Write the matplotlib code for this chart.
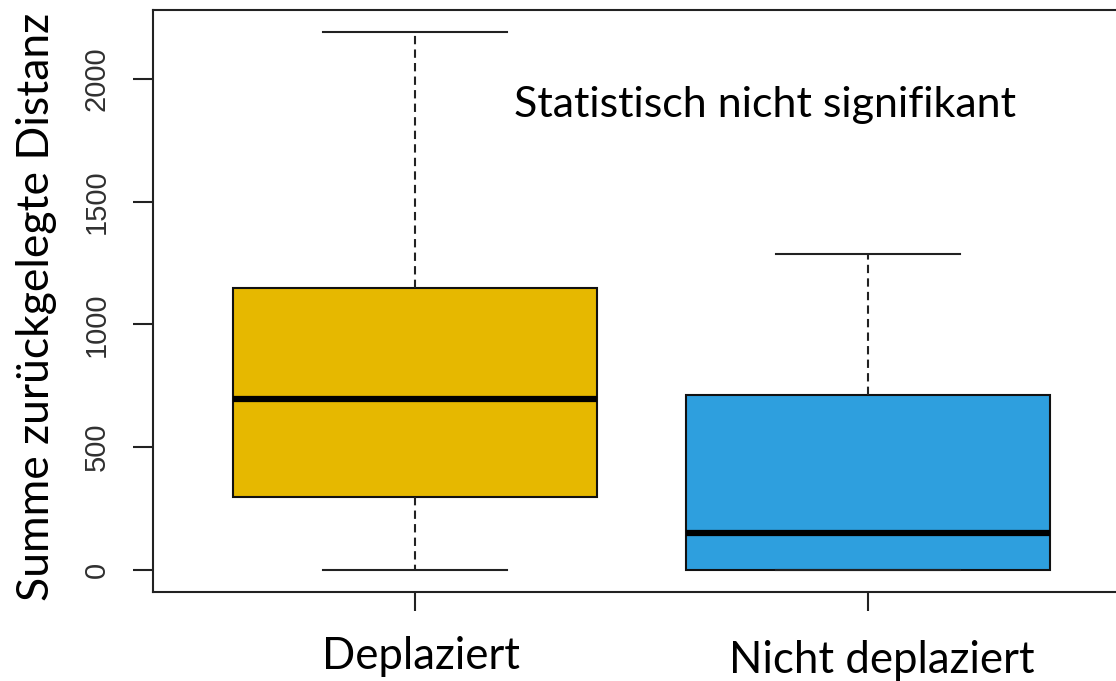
import matplotlib.pyplot as plt
import matplotlib.transforms as mtransforms
import numpy as np

groups = ['Deplaziert', 'Nicht deplaziert']
whislo = [0, 0]
q1 = [297, 0]
med = [697, 151]
q3 = [1148, 712]
whishi = [2190, 1285]
colors = ['#E6B800', '#2E9FDE']

yticks = [0, 500, 1000, 1500, 2000]

fig = plt.figure(figsize=(11.16, 6.81), dpi=100)
# axes box: left 153px, top 10px, bottom 592px, right runs off the picture
ax = fig.add_axes([153 / 1116, (681 - 592) / 681, 1.0, (592 - 10) / 681])

stats = []
for i in range(len(groups)):
    stats.append({'whislo': whislo[i], 'q1': q1[i], 'med': med[i],
                  'q3': q3[i], 'whishi': whishi[i], 'fliers': []})

lw = 1.5
bp = ax.bxp(stats, positions=[1, 2], widths=0.805, patch_artist=True,
            showfliers=False, capwidths=0.408,
            boxprops={'linewidth': lw, 'edgecolor': '#111111'},
            medianprops={'color': 'black', 'linewidth': 4.5, 'solid_capstyle': 'butt'},
            whiskerprops={'color': '#222222', 'linewidth': lw, 'linestyle': (0, (4, 2.5))},
            capprops={'color': '#222222', 'linewidth': lw})
for patch, c in zip(bp['boxes'], colors):
    patch.set_facecolor(c)

ax.set_xlim(0.4216, 0.4216 + 1116 / 453)
ax.set_ylim(-90, 2281)

for s in ['left', 'bottom', 'top', 'right']:
    ax.spines[s].set_linewidth(1.5)
    ax.spines[s].set_color('#222222')

ax.set_yticks(yticks)
ax.set_yticklabels([str(v) for v in yticks], rotation=90, va='center',
                   family=['Liberation Sans', 'DejaVu Sans'], fontsize=21, color='#303030')
ax.tick_params(axis='y', length=14.4, width=1.5, pad=16, color='#222222')

ax.set_xticks([1, 2])
ax.set_xticklabels(groups, family=['Lato', 'DejaVu Sans'], fontsize=31.5)
ax.tick_params(axis='x', length=14, width=1.5, pad=18, color='#222222')

# the labels in the original sit a little right of their ticks
shifts = [(6, 0), (14, -4)]
for lab, (dx, dy) in zip(ax.get_xticklabels(), shifts):
    lab.set_transform(lab.get_transform() +
                      mtransforms.ScaledTranslation(dx / 100, dy / 100, fig.dpi_scale_trans))

fig.text(37 / 1116, 1 - 307 / 681, 'Summe zurückgelegte Distanz', rotation=90,
         ha='center', va='center', family=['Lato', 'DejaVu Sans'], fontsize=32)

ax.text(514 / 1116, 1 - 105 / 681, 'Statistisch nicht signifikant', transform=fig.transFigure,
        ha='left', va='center', family=['Lato', 'DejaVu Sans'], fontsize=31)

fig.savefig('out.png', dpi=100)
